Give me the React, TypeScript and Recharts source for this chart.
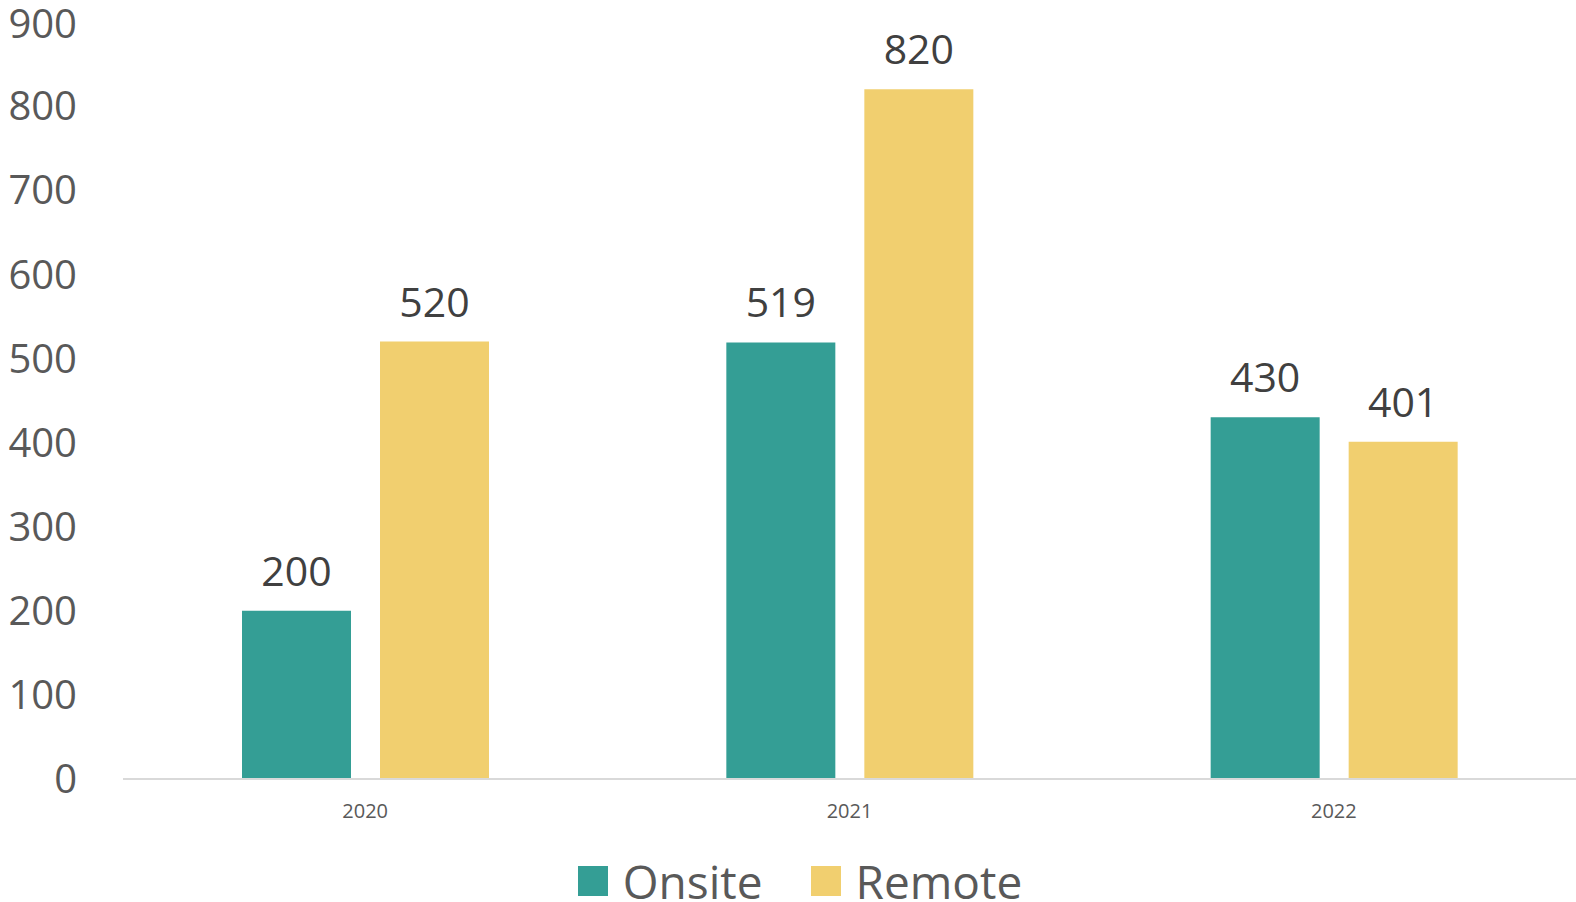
import React from "react";
import { BarChart, Bar, XAxis, YAxis, Legend, LabelList } from "recharts";

const years = ["2020", "2021", "2022"];
const onsite = [200, 519, 430];
const remote = [520, 820, 401];
const yTicks = [0, 100, 200, 300, 400, 500, 600, 700, 800, 900];

const data = years.map((year, i) => ({
  year,
  Onsite: onsite[i],
  Remote: remote[i],
}));

const FONT = "'Open Sans', sans-serif";
const TEAL = "#349E95";
const YELLOW = "#F1CF6F";

const renderLegend = (props: any) => {
  const { payload } = props;
  return (
    <div
      style={{
        display: "flex",
        justifyContent: "center",
        alignItems: "center",
        height: 60,
        paddingTop: 18,
        paddingLeft: 24,
        boxSizing: "border-box",
        fontFamily: FONT,
        fontSize: 46,
        lineHeight: "40px",
        color: "#595959",
      }}
    >
      {payload.map((entry: any, i: number) => (
        <div
          key={entry.value}
          style={{ display: "flex", alignItems: "center", marginLeft: i ? 48 : 0 }}
        >
          <span
            style={{
              width: 30,
              height: 30,
              background: entry.color,
              display: "inline-block",
              marginRight: 15,
            }}
          />
          <span>{entry.value}</span>
        </div>
      ))}
    </div>
  );
};

const App: React.FC = () => {
  return (
    <div style={{ position: "absolute", left: 0, top: 0, width: 1576, height: 902 }}>
      <BarChart
        width={1576}
        height={902}
        data={data}
        margin={{ top: 22, right: 0, left: 0, bottom: 0 }}
        barCategoryGap="24.5%"
        barGap={29}
      >
        <XAxis
          dataKey="year"
          height={63}
          stroke="#D9D9D9"
          strokeWidth={2}
          tickLine={false}
          tickMargin={19}
          tick={{ fill: "#595959", fontSize: 20, fontFamily: FONT }}
        />
        <YAxis
          width={123}
          domain={[0, 900]}
          ticks={yTicks}
          axisLine={false}
          tickLine={false}
          tickSize={0}
          tickMargin={46}
          tick={{ fill: "#595959", fontSize: 40, fontFamily: FONT }}
        />
        <Legend verticalAlign="bottom" height={60} content={renderLegend} />
        <Bar dataKey="Onsite" fill={TEAL} barSize={109} isAnimationActive={false}>
          <LabelList
            dataKey="Onsite"
            position="top"
            offset={25}
            fill="#404040"
            fontSize={41}
            fontFamily={FONT}
          />
        </Bar>
        <Bar dataKey="Remote" fill={YELLOW} barSize={109} isAnimationActive={false}>
          <LabelList
            dataKey="Remote"
            position="top"
            offset={25}
            fill="#404040"
            fontSize={41}
            fontFamily={FONT}
          />
        </Bar>
      </BarChart>
    </div>
  );
};

export default App;
